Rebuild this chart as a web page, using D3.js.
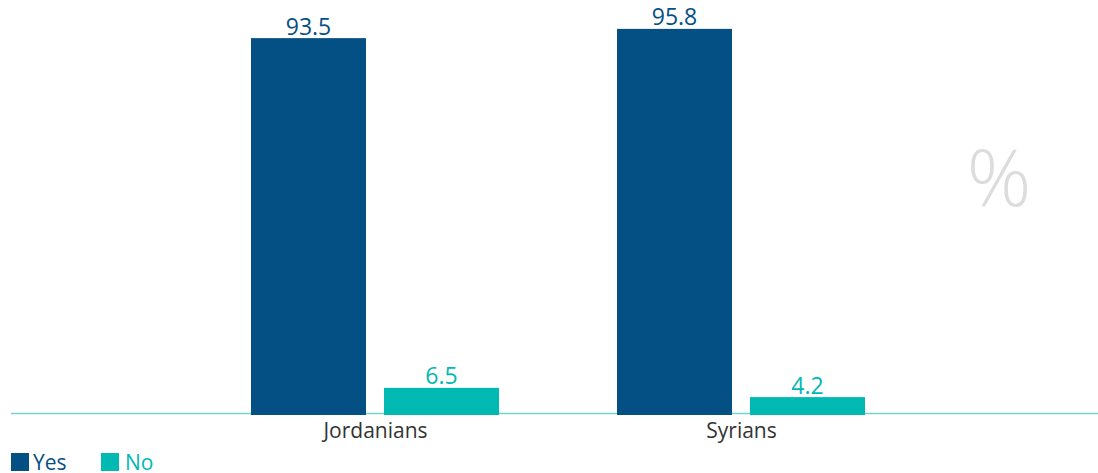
<!DOCTYPE html>
<html>
<head>
<meta charset="utf-8">
<script src="https://cdn.jsdelivr.net/npm/d3@7"></script>
<style>
  html, body { margin: 0; padding: 0; background: #fff; }
  svg { display: block; font-family: "Open Sans", sans-serif; }
</style>
</head>
<body>
<svg id="chart" width="1098" height="473"></svg>
<script>
const categories = ["Jordanians", "Syrians"];
const seriesNames = ["Yes", "No"];
const yesValues = [93.5, 95.8];
const noValues = [6.5, 4.2];
const colors = ["#044F83", "#00B9B3"];

const svg = d3.select("#chart");
const baseY = 414;
const y = d3.scaleLinear().domain([0, 100]).range([baseY, 12]);

const values = [yesValues, noValues];
const barW = 115, gap = 18;
const x1 = d3.scaleOrdinal().domain(seriesNames).range([-(barW + gap/2), gap/2]);
const xc = d3.scalePoint().domain(categories).range([375, 741]);

// baseline
svg.append("line")
  .attr("x1", 11).attr("x2", 1098).attr("y1", 413.5).attr("y2", 413.5)
  .attr("stroke", "#74D4D1").attr("stroke-width", 1.6);

categories.forEach((c, i) => {
  seriesNames.forEach((s, j) => {
    const v = values[j][i];
    const bx = xc(c) + x1(s);
    svg.append("rect")
      .attr("x", bx).attr("y", y(v))
      .attr("width", barW).attr("height", baseY + 1 - y(v))
      .attr("fill", colors[j]);
    svg.append("text")
      .attr("x", bx + barW / 2).attr("y", y(v) - 3.5)
      .attr("text-anchor", "middle")
      .attr("font-size", 23).attr("fill", colors[j])
      .text(v.toFixed(1));
  });
});

// category axis labels
const axis = d3.axisBottom(xc).tickSize(0).tickPadding(0);
const ag = svg.append("g").attr("transform", `translate(0,${baseY})`).call(axis);
ag.select(".domain").remove();
ag.selectAll("text")
  .attr("dy", null).attr("y", 24)
  .attr("font-size", 21).attr("fill", "#333")
  .attr("font-family", "Open Sans, sans-serif");

// percent sign
svg.append("text")
  .attr("x", 999).attr("y", 206)
  .attr("text-anchor", "middle")
  .attr("font-size", 80).attr("font-weight", 300)
  .attr("fill", "#DCDCDC")
  .text("%");

// legend
const legX = [11, 101];
const legTextX = [33, 125];
seriesNames.forEach((s, j) => {
  svg.append("rect").attr("x", legX[j]).attr("y", 453).attr("width", 18).attr("height", 18).attr("fill", colors[j]);
  svg.append("text").attr("x", legTextX[j]).attr("y", 470)
    .attr("font-size", 21).attr("fill", colors[j]).text(s);
});
</script>
</body>
</html>
